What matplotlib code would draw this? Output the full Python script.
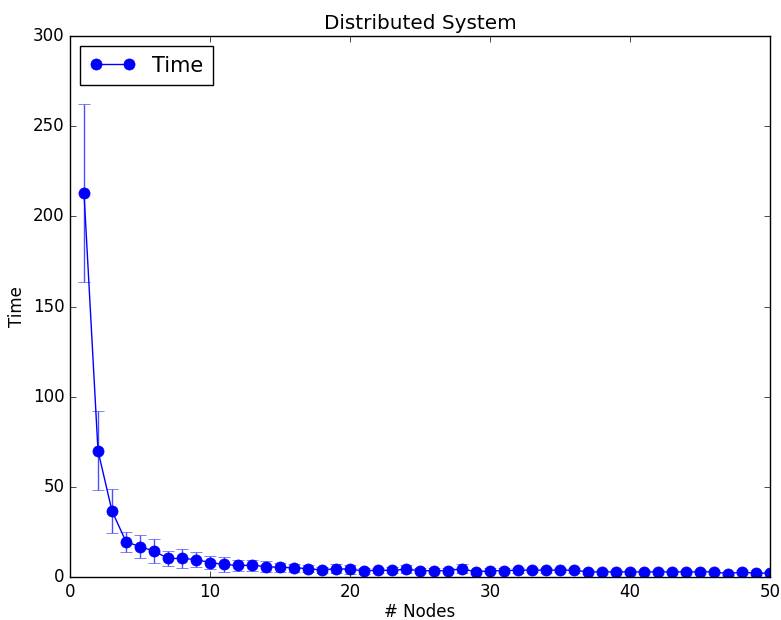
import matplotlib
matplotlib.use("Agg")
import matplotlib.pyplot as plt

plt.style.use("classic")

# values
nodes = list(range(1, 51))
time_mean = [213, 70, 36.6, 19.6, 16.8, 14.4, 10.3, 10.3, 9.7, 8.0,
             7.0, 6.4, 6.5, 5.8, 5.3, 5.2, 4.6, 3.9, 4.7, 4.2,
             3.5, 3.7, 3.7, 4.3, 3.5, 3.5, 3.5, 4.6, 2.8, 3.5,
             3.5, 3.8, 3.8, 3.8, 3.8, 3.8, 2.8, 2.8, 2.8, 2.8,
             2.8, 2.8, 2.8, 2.8, 2.8, 2.9, 1.8, 2.8, 2.0, 2.3]
time_err = [49.5, 22, 12, 5.5, 6.5, 6.8, 4.2, 5.2, 4.2, 3.8,
            4.0, 3.0, 3.2, 3.0, 2.5, 2.2, 2.0, 1.8, 2.5, 2.4,
            1.6, 1.5, 1.6, 2.2, 1.5, 1.5, 1.5, 2.4, 1.2, 1.4,
            1.3, 1.4, 1.3, 1.4, 1.3, 1.4, 1.0, 1.0, 1.0, 1.0,
            1.0, 1.0, 1.0, 1.0, 1.0, 1.1, 0.8, 1.0, 0.8, 0.9]

fig = plt.figure(figsize=(7.81, 6.2), dpi=100, facecolor="white")
ax = fig.add_axes([70 / 781, 1 - 577 / 620, 700 / 781, 541 / 620])

ax.errorbar(nodes, time_mean, yerr=time_err, fmt="none",
            ecolor=(0.3, 0.3, 1.0), capsize=4)
ax.plot(nodes, time_mean, "o-", color="blue", markersize=8,
        markeredgecolor="blue", label="Time")

ax.set_xlim(0, 50)
ax.set_ylim(0, 300)
ax.set_xlabel("# Nodes", labelpad=2)
ax.set_ylabel("Time")
ax.set_title("Distributed System", y=1.0)
ax.legend(loc="upper left", numpoints=2, fontsize=15, handlelength=2.2,
          borderpad=0.45)

fig.savefig("out.png", dpi=100, facecolor="white")
